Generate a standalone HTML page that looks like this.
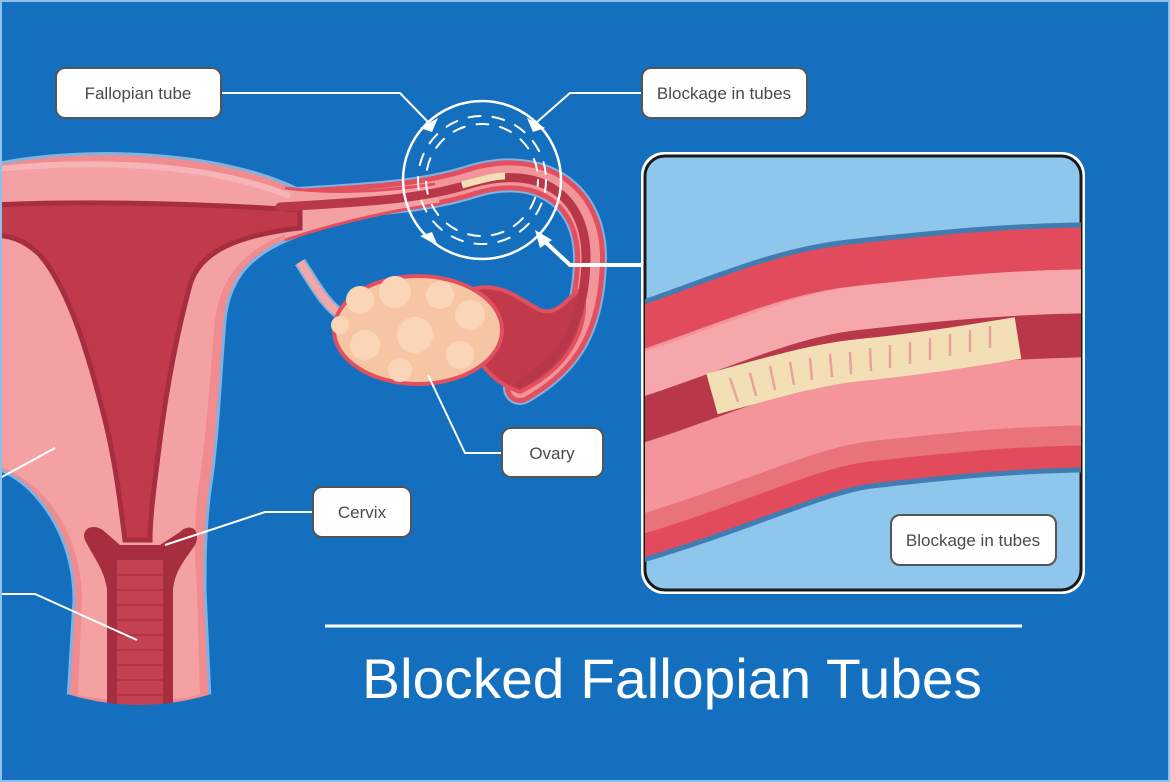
<!DOCTYPE html>
<html><head><meta charset="utf-8"><style>
html,body{margin:0;padding:0;background:#1470bf}
svg{display:block}
text{font-family:"Liberation Sans",sans-serif}
</style></head><body>
<svg width="1170" height="782" viewBox="0 0 1170 782" xmlns="http://www.w3.org/2000/svg">
<defs>
<clipPath id="ic"><rect x="645" y="156" width="436" height="434" rx="20"/></clipPath>
</defs>
<rect x="0" y="0" width="1170" height="782" fill="#1470bf"/>

<!-- fallopian tube -->
<path d="M280,205 C360,200 420,198 470,182 C540,160 592,195 590,262 C588,322 570,360 520,388" fill="none" stroke="#7fb2e0" stroke-width="34" stroke-linecap="round"/>
<path d="M280,205 C360,200 420,198 470,182 C540,160 592,195 590,262 C588,322 570,360 520,388" fill="none" stroke="#e2505f" stroke-width="30" stroke-linecap="round"/>
<path d="M280,205 C360,200 420,198 470,182 C540,160 592,195 590,262 C588,322 570,360 520,388" fill="none" stroke="#f2959a" stroke-width="20" stroke-linecap="round"/>

<!-- ligament -->
<path d="M300,262 C315,285 325,305 345,318" fill="none" stroke="#7fb2e0" stroke-width="12"/>
<path d="M300,262 C315,285 325,305 345,318" fill="none" stroke="#f2a6a8" stroke-width="8"/>

<!-- fimbrial funnel -->
<path d="M470,290 C500,280 520,300 540,310 C560,318 572,290 582,290 C590,320 575,365 520,392 C500,385 480,370 470,340 Z" fill="#c03a4c" stroke="#e2505f" stroke-width="4"/>

<!-- ovary -->
<g>
<ellipse cx="418" cy="330" rx="84" ry="54" fill="#f6c6a4" stroke="#e2505f" stroke-width="4"/>
<circle cx="360" cy="300" r="14" fill="#fbd5b8"/><circle cx="395" cy="292" r="16" fill="#fbd5b8"/>
<circle cx="440" cy="295" r="14" fill="#fbd5b8"/><circle cx="470" cy="315" r="15" fill="#fbd5b8"/>
<circle cx="365" cy="345" r="15" fill="#fbd5b8"/><circle cx="415" cy="335" r="18" fill="#fbd5b8"/>
<circle cx="460" cy="355" r="14" fill="#fbd5b8"/><circle cx="400" cy="370" r="12" fill="#fbd5b8"/>
<circle cx="340" cy="325" r="9" fill="#fbd5b8"/>
</g>

<!-- uterus body -->
<path d="M-10,165 C80,145 220,150 300,190 L300,235 C260,250 230,270 225,320 C220,380 218,440 210,490 C205,530 205,560 205,590 L210,700 Q140,715 68,700 L74,600 C74,560 60,520 30,490 C15,475 0,470 -10,465 Z" fill="#f08c90" stroke="#7fb2e0" stroke-width="3"/>
<path d="M-10,175 C80,158 210,160 290,198 L290,232 C250,248 222,270 215,320 C210,380 206,440 198,490 C193,530 195,560 197,590 L200,695 Q140,707 78,695 L82,600 C82,560 68,520 38,490 C20,474 5,468 -10,462 Z" fill="#f4a1a4"/>
<!-- tapered junction -->
<path d="M285,188 C330,194 380,192 435,184 L440,204 C380,212 330,225 285,240 Z" fill="#f4a1a4"/>
<path d="M285,188 C330,194 380,192 435,184" fill="none" stroke="#e2505f" stroke-width="3"/>
<path d="M285,240 C330,225 380,212 440,204" fill="none" stroke="#e2505f" stroke-width="3"/>
<!-- cavity -->
<path d="M-10,205 C100,200 220,205 300,210 L300,228 C240,235 200,250 190,285 C175,340 165,400 160,440 C155,480 150,515 150,540 L125,540 C120,500 115,460 105,420 C90,360 70,290 40,255 C25,240 10,235 -10,235 Z" fill="#c03a4c" stroke="#a72d40" stroke-width="5"/>
<path d="M280,207 C360,202 420,200 470,184 C540,163 588,195 586,262 C584,320 566,356 520,384" fill="none" stroke="#b8384a" stroke-width="9" stroke-linecap="round"/>
<path d="M462,185 C480,180 495,176 505,176" fill="none" stroke="#f2dfb6" stroke-width="7"/>
<path d="M-10,170 C80,160 200,160 290,196" fill="none" stroke="#f7b4b6" stroke-width="6"/>
<!-- cervix / vagina -->
<path d="M85,540 C80,528 95,522 105,532 L120,545 L160,545 L180,532 C190,522 202,530 195,545 C185,560 175,570 173,590 L173,710 L107,710 L107,590 C105,570 92,555 85,540 Z" fill="#a72d40"/>
<path d="M117,560 L163,560 L163,710 L117,710 Z" fill="#c44152"/>
<g stroke="#b13548" stroke-width="2">
<line x1="117" y1="575" x2="163" y2="575"/><line x1="117" y1="590" x2="163" y2="590"/><line x1="117" y1="605" x2="163" y2="605"/><line x1="117" y1="620" x2="163" y2="620"/><line x1="117" y1="635" x2="163" y2="635"/><line x1="117" y1="650" x2="163" y2="650"/><line x1="117" y1="665" x2="163" y2="665"/><line x1="117" y1="680" x2="163" y2="680"/><line x1="117" y1="695" x2="163" y2="695"/>
</g>
<rect x="0" y="711" width="260" height="80" fill="#1470bf"/>
<path d="M66,698 Q140,720 212,698" fill="none" stroke="#1470bf" stroke-width="8"/>

<!-- magnifier circle -->
<g fill="none" stroke="#fff" stroke-linecap="round">
<circle cx="482" cy="180" r="79" stroke-width="2.5"/>
<circle cx="482" cy="180" r="64" stroke-width="2" stroke-dasharray="12 12"/>
<circle cx="482" cy="180" r="56" stroke-width="2" stroke-dasharray="12 12" stroke-dashoffset="6"/>
</g>
<!-- label lines -->
<g fill="none" stroke="#fff" stroke-width="2">
<polyline points="221,93 400,93 428,122"/>
<polyline points="642,93 570,93 537,122"/>
<polyline points="642,265 570,265 540,237" stroke-width="4"/>
<polyline points="428,375 465,453 502,453"/>
<polyline points="313,512 265,512 165,545"/>
<polyline points="0,478 55,448"/>
<polyline points="0,594 35,594 137,640"/>
</g>
<g fill="#fff">
<polygon points="420,128 438,118 432,132"/>
<polygon points="545,128 527,118 533,132"/>
<polygon points="420,236 438,246 432,232"/>
<polygon points="535,230 552,240 540,248"/>
</g>

<!-- labels -->
<g font-size="17" fill="#4a4a4a" text-anchor="middle">
<rect x="56" y="68" width="165" height="50" rx="9" fill="#fff" stroke="#555" stroke-width="2"/>
<text x="138" y="99">Fallopian tube</text>
<rect x="642" y="68" width="165" height="50" rx="9" fill="#fff" stroke="#555" stroke-width="2"/>
<text x="724" y="99">Blockage in tubes</text>
<rect x="502" y="428" width="101" height="49" rx="9" fill="#fff" stroke="#555" stroke-width="2"/>
<text x="552" y="459">Ovary</text>
<rect x="313" y="487" width="98" height="50" rx="9" fill="#fff" stroke="#555" stroke-width="2"/>
<text x="362" y="518">Cervix</text>
</g>

<!-- inset -->
<rect x="641" y="152" width="444" height="442" rx="23" fill="#fff"/>
<rect x="645" y="156" width="436" height="434" rx="20" fill="#8ec6ec" stroke="#1a1a1a" stroke-width="3"/>
<g clip-path="url(#ic)" fill="none">
<path d="M600,445 C720,410 790,372 860,364 C950,354 1020,347 1120,347" stroke="#3f7db3" stroke-width="250"/>
<path d="M600,445 C720,410 790,372 860,364 C950,354 1020,347 1120,347" stroke="#e14b5b" stroke-width="240"/>
<path d="M600,455 C720,420 790,382 860,374 C950,364 1020,357 1120,357" stroke="#e8737b" stroke-width="176"/>
<path d="M600,445 C720,410 790,372 860,364 C950,354 1020,347 1120,347" stroke="#f3959a" stroke-width="156"/>
<path d="M600,396 C720,361 790,323 860,315 C950,305 1020,298 1120,298" stroke="#f5a7ac" stroke-width="58"/>
<path d="M600,433 C720,398 790,360 860,352 C950,342 1020,335 1120,335" stroke="#b8384a" stroke-width="44"/>
<path d="M712,394 C780,375 820,364 860,360 C930,353 980,344 1018,338" stroke="#f2dfb6" stroke-width="42" stroke-linecap="butt"/>
</g>
<g stroke="#e8a39a" stroke-width="2.5">
<line x1="730" y1="378" x2="738" y2="402"/><line x1="750" y1="373" x2="756" y2="396"/><line x1="770" y1="366" x2="775" y2="390"/><line x1="790" y1="362" x2="794" y2="385"/><line x1="810" y1="358" x2="812" y2="380"/><line x1="830" y1="354" x2="832" y2="377"/><line x1="850" y1="352" x2="851" y2="374"/><line x1="870" y1="348" x2="871" y2="371"/><line x1="890" y1="345" x2="890" y2="368"/><line x1="910" y1="342" x2="910" y2="364"/><line x1="930" y1="338" x2="930" y2="360"/><line x1="950" y1="334" x2="950" y2="356"/><line x1="970" y1="330" x2="970" y2="352"/><line x1="990" y1="326" x2="990" y2="348"/>
</g>
<rect x="891" y="515" width="165" height="50" rx="9" fill="#fff" stroke="#555" stroke-width="2"/>
<text x="973" y="546" font-size="17" fill="#4a4a4a" text-anchor="middle">Blockage in tubes</text>

<!-- title -->
<line x1="325" y1="626" x2="1022" y2="626" stroke="#fff" stroke-width="3"/>
<text x="672" y="698" font-size="56" fill="#fff" text-anchor="middle" textLength="620" lengthAdjust="spacingAndGlyphs">Blocked Fallopian Tubes</text>

<rect x="1" y="1" width="1168" height="780" fill="none" stroke="#8fc0ea" stroke-width="2"/>
</svg>
</body></html>
